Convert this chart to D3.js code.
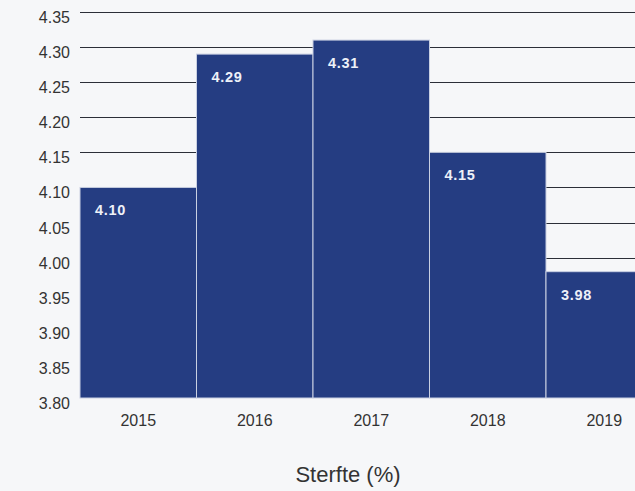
<!DOCTYPE html>
<html>
<head>
<meta charset="utf-8">
<script src="https://cdn.jsdelivr.net/npm/d3@7"></script>
<style>
  html, body { margin: 0; padding: 0; background: #f6f7f9; overflow: hidden; }
  svg { display: block; font-family: "Liberation Sans", Arial, sans-serif; }
</style>
</head>
<body>
<svg id="chart" width="635" height="491"></svg>
<script>
// data
var years = ["2015", "2016", "2017", "2018", "2019"];
var sterfte = [4.10, 4.29, 4.31, 4.15, 3.98];
var yTicks = [3.80, 3.85, 3.90, 3.95, 4.00, 4.05, 4.10, 4.15, 4.20, 4.25, 4.30, 4.35];

var svg = d3.select("#chart");
var margin = {left: 80, top: 12, bottom: 93};
var plotRight = 662.5; // chart is clipped at the right edge
var height = 491;

var x = d3.scaleBand()
    .domain(years)
    .range([margin.left, plotRight])
    .padding(0);

var y = d3.scaleLinear()
    .domain([3.80, 4.35])
    .range([height - margin.bottom, margin.top]);

// gridlines
svg.append("g")
    .selectAll("line")
    .data(yTicks.slice(1))
    .enter().append("line")
    .attr("x1", margin.left)
    .attr("x2", 635)
    .attr("y1", function(d){ return Math.round(y(d)) + 0.5; })
    .attr("y2", function(d){ return Math.round(y(d)) + 0.5; })
    .attr("stroke", "#2b2f38")
    .attr("stroke-width", 1);

// y axis labels (sit a little below their gridline)
svg.append("g")
    .selectAll("text")
    .data(yTicks)
    .enter().append("text")
    .attr("x", 70)
    .attr("y", function(d){ return y(d) + 11; })
    .attr("text-anchor", "end")
    .attr("fill", "#333")
    .attr("font-size", 16)
    .text(d3.format(".2f"));

// bars
svg.append("g")
    .selectAll("rect")
    .data(sterfte)
    .enter().append("rect")
    .attr("x", function(d, i){ return x(years[i]); })
    .attr("y", function(d){ return y(d); })
    .attr("width", x.bandwidth())
    .attr("height", function(d){ return y(3.80) - y(d); })
    .attr("fill", "#253d82")
    .attr("stroke", "#c9d0e2")
    .attr("stroke-width", 1);

// value labels inside the bars
svg.append("g")
    .selectAll("text")
    .data(sterfte)
    .enter().append("text")
    .attr("x", function(d, i){ return x(years[i]) + 15; })
    .attr("y", function(d){ return y(d) + 28; })
    .attr("fill", "#eef1f8")
    .attr("font-size", 14.5)
    .attr("font-weight", "bold")
    .attr("letter-spacing", 0.7)
    .text(function(d){ return d3.format(".2f")(d); });

// x axis labels
var xAxis = d3.axisBottom(x).tickSize(0).tickPadding(17);
var gx = svg.append("g")
    .attr("transform", "translate(0," + y(3.80) + ")")
    .call(xAxis);
gx.select(".domain").remove();
gx.selectAll("text")
    .attr("fill", "#333")
    .attr("font-size", 16)
    .attr("font-family", "Liberation Sans, Arial, sans-serif");

// axis title
svg.append("text")
    .attr("x", 348)
    .attr("y", 482)
    .attr("text-anchor", "middle")
    .attr("fill", "#333")
    .attr("font-size", 22)
    .text("Sterfte (%)");
</script>
</body>
</html>
